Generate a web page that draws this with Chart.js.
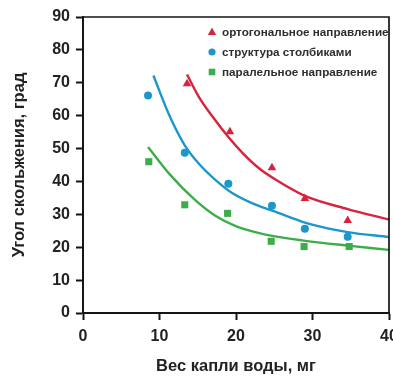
<!DOCTYPE html>
<html>
<head>
<meta charset="utf-8">
<script src="https://cdn.jsdelivr.net/npm/chart.js@4.4.0/dist/chart.umd.min.js"></script>
<style>
  html, body { margin: 0; padding: 0; background: #fff; overflow: hidden; }
  #wrap { width: 410px; height: 376px; }
</style>
</head>
<body>
<div id="wrap"><canvas id="chart" width="410" height="376"></canvas></div>
<script>
/* ─── Data ─── */
const seriesLabels = ['ортогональное направление', 'структура столбиками', 'паралельное направление'];

// measured points
const orthoX    = [13.6, 19.2, 24.7, 29.0, 34.6];
const orthoY    = [69.7, 55.1, 44.2, 34.8, 28.1];
const columnX   = [8.5, 13.3, 19.0, 24.7, 29.0, 34.6];
const columnY   = [66.1, 48.7, 39.3, 32.6, 25.6, 23.2];
const parallelX = [8.6, 13.3, 18.9, 24.6, 28.9, 34.8];
const parallelY = [46.0, 32.9, 30.3, 21.8, 20.2, 20.2];

// fitted curves
const orthoFitX    = [13.6, 15.2, 17, 19, 21, 23, 25, 29, 34.6, 40];
const orthoFitY    = [72.5, 65.5, 59.5, 53.5, 48.3, 44, 40.8, 35.6, 31.6, 28.4];
const columnFitX   = [9.2, 11.4, 13.3, 15.3, 17.3, 19.5, 22.5, 25.1, 29, 34.6, 40];
const columnFitY   = [72.2, 59.5, 51, 45, 40.5, 36.5, 33, 30.8, 27.5, 24.6, 23.1];
const parallelFitX = [8.5, 11.4, 14.6, 17.3, 19.9, 22.5, 25.1, 28.6, 34.6, 40];
const parallelFitY = [50.5, 42, 34.5, 29.6, 26.5, 24.6, 23.3, 22.1, 20.5, 19.2];

const xTicks = [0, 10, 20, 30, 40];
const yTicks = [0, 10, 20, 30, 40, 50, 60, 70, 80, 90];

const RED   = '#d9233d';
const BLUE  = '#1c97c9';
const GREEN = '#3bae4a';
const FONT  = '"Liberation Sans", Arial, sans-serif';

const pts = (xs, ys) => xs.map((x, i) => ({ x, y: ys[i] }));

function markers(label, xs, ys, color, style, r) {
  return {
    label, data: pts(xs, ys), showLine: false,
    pointStyle: style, pointRadius: r, pointHoverRadius: r,
    backgroundColor: color, borderColor: color, borderWidth: 0,
    legendMarker: true,
  };
}

function curve(xs, ys, color) {
  return {
    data: pts(xs, ys), showLine: true, pointRadius: 0,
    borderColor: color, borderWidth: 2.4, fill: false,
    cubicInterpolationMode: 'monotone',
  };
}

/* ─── Legend drawn inside the plot, top right ─── */
const insideLegend = {
  id: 'insideLegend',
  afterDatasetsDraw(chart) {
    const { ctx, chartArea } = chart;
    ctx.save();
    ctx.font = 'bold 11.7px ' + FONT;
    ctx.textBaseline = 'middle';
    chart.data.datasets.filter(d => d.legendMarker).forEach((ds, i) => {
      const x = chartArea.left + 129;
      const y = chartArea.top + 15 + i * 20;
      ctx.fillStyle = ds.backgroundColor;
      ctx.beginPath();
      if (ds.pointStyle === 'triangle') {
        ctx.moveTo(x, y - 4.5); ctx.lineTo(x + 4.2, y + 3); ctx.lineTo(x - 4.2, y + 3);
      } else if (ds.pointStyle === 'circle') {
        ctx.arc(x, y, 3.6, 0, Math.PI * 2);
      } else {
        ctx.rect(x - 3.3, y - 3.3, 6.6, 6.6);
      }
      ctx.fill();
      ctx.fillStyle = '#2e2e2e';
      ctx.fillText(ds.label, x + 10, y + 0.5);
    });
    ctx.restore();
  }
};

/* ─── Top and right frame lines ─── */
const frame = {
  id: 'frame',
  afterDraw(chart) {
    const { ctx, chartArea: a } = chart;
    ctx.save();
    ctx.strokeStyle = '#151515';
    ctx.lineWidth = 1.7;
    ctx.beginPath();
    ctx.moveTo(a.left, a.top); ctx.lineTo(a.right, a.top); ctx.lineTo(a.right, a.bottom);
    ctx.stroke();
    ctx.restore();
  }
};

new Chart(document.getElementById('chart'), {
  type: 'scatter',
  data: {
    datasets: [
      markers(seriesLabels[0], orthoX, orthoY, RED, 'triangle', 5),
      markers(seriesLabels[1], columnX, columnY, BLUE, 'circle', 4),
      markers(seriesLabels[2], parallelX, parallelY, GREEN, 'rect', 5),
      curve(orthoFitX, orthoFitY, RED),
      curve(columnFitX, columnFitY, BLUE),
      curve(parallelFitX, parallelFitY, GREEN),
    ]
  },
  options: {
    responsive: false,
    animation: false,
    layout: { padding: { top: 17, right: 21, left: 0, bottom: 0 } },
    plugins: { legend: { display: false }, tooltip: { enabled: false } },
    scales: {
      x: {
        type: 'linear', min: 0, max: 40,
        afterBuildTicks: s => { s.ticks = xTicks.map(v => ({ value: v })); },
        afterFit: s => { s.height = 63; },
        grid: { drawOnChartArea: false, drawTicks: true, tickLength: 7, tickColor: '#151515', tickWidth: 2 },
        border: { color: '#151515', width: 2 },
        ticks: { color: '#222', padding: 7, font: { family: FONT, size: 16, weight: 'bold' } },
        title: {
          display: true, text: 'Вес капли воды, мг', color: '#222',
          font: { family: FONT, size: 16.5, weight: 'bold' }, padding: { top: 0, bottom: 0 }
        }
      },
      y: {
        type: 'linear', min: 0, max: 90,
        afterBuildTicks: s => { s.ticks = yTicks.map(v => ({ value: v })); },
        afterFit: s => { s.width = 83; },
        grid: { drawOnChartArea: false, drawTicks: true, tickLength: 7, tickColor: '#151515', tickWidth: 2 },
        border: { color: '#151515', width: 2 },
        ticks: { color: '#222', padding: 6, font: { family: FONT, size: 16, weight: 'bold' } },
        title: {
          display: true, text: 'Угол скольжения, град', color: '#222',
          font: { family: FONT, size: 16.5, weight: 'bold' }, padding: { top: 9.5, bottom: 0 }
        }
      }
    }
  },
  plugins: [insideLegend, frame]
});
</script>
</body>
</html>
